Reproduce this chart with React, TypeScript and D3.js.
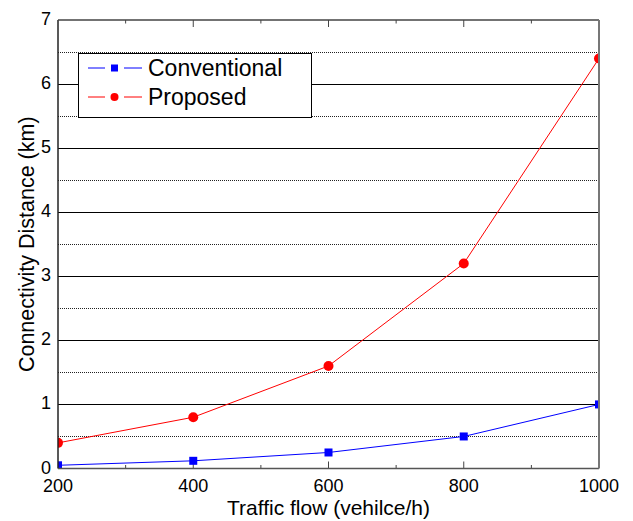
import React from "react";
import * as d3 from "d3";

const xValues = [200, 400, 600, 800, 1000];
const conventional = [0.05, 0.12, 0.25, 0.5, 1.0];
const proposed = [0.4, 0.8, 1.6, 3.2, 6.4];
const xTicks = [200, 400, 600, 800, 1000];
const xMinorTicks = [300, 500, 700, 900];
const yTicks = [0, 1, 2, 3, 4, 5, 6, 7];
const yHalfTicks = [0.5, 1.5, 2.5, 3.5, 4.5, 5.5, 6.5];
const seriesNames = ["Conventional", "Proposed"];

const W = 633;
const H = 521;
const L = 58, R = 599, T = 20, B = 468.5;
const FONT = "'Liberation Sans', Arial, sans-serif";

export default function App() {
  const x = d3.scaleLinear().domain([200, 1000]).range([L, R]);
  const y = d3.scaleLinear().domain([0, 7]).range([B, T]);
  const line = d3.line<number>().x((_, i) => x(xValues[i])).y((d) => y(d));

  return (
    <svg width={W} height={H} style={{ position: "absolute", left: 0, top: 0, background: "#fff" }} fontFamily={FONT}>
      <defs>
        <clipPath id="plotclip">
          <rect x={L} y={T} width={R - L} height={B - T} />
        </clipPath>
      </defs>
      <rect width={W} height={H} fill="#fff" />
      {/* grid */}
      {yHalfTicks.map((v) => (
        <line key={"h" + v} x1={L} x2={R} y1={Math.round(y(v)) + 0.5} y2={Math.round(y(v)) + 0.5} stroke="#222" strokeWidth={1} strokeDasharray="1,1" />
      ))}
      {yTicks.slice(1, 7).map((v) => (
        <line key={"g" + v} x1={L} x2={R} y1={Math.round(y(v)) + 0.5} y2={Math.round(y(v)) + 0.5} stroke="#000" strokeWidth={1} />
      ))}
      {/* x ticks bottom/top */}
      {xTicks.slice(1, 4).map((v) => (
        <g key={"xt" + v}>
          <line x1={x(v)} x2={x(v)} y1={B} y2={B - 7} stroke="#444" />
          <line x1={x(v)} x2={x(v)} y1={T} y2={T + 7} stroke="#444" />
        </g>
      ))}
      {xMinorTicks.map((v) => (
        <g key={"xm" + v}>
          <line x1={x(v)} x2={x(v)} y1={B} y2={B - 3.5} stroke="#444" />
          <line x1={x(v)} x2={x(v)} y1={T} y2={T + 3.5} stroke="#444" />
        </g>
      ))}
      {/* series */}
      <g clipPath="url(#plotclip)">
        <path d={line(conventional) || ""} fill="none" stroke="#0000ff" strokeWidth={1} />
        <path d={line(proposed) || ""} fill="none" stroke="#ff0000" strokeWidth={1} />
        {conventional.map((v, i) => (
          <rect key={"c" + i} x={x(xValues[i]) - 4} y={y(v) - 4} width={8} height={8} fill="#0000ff" />
        ))}
        {proposed.map((v, i) => (
          <circle key={"p" + i} cx={x(xValues[i])} cy={y(v)} r={5} fill="#ff0000" />
        ))}
      </g>
      {/* frame */}
      <line x1={L} x2={L} y1={T} y2={B} stroke="#222" strokeWidth={1.5} />
      <line x1={L} x2={R} y1={T} y2={T} stroke="#444" strokeWidth={1.5} />
      <line x1={L} x2={R} y1={B} y2={B} stroke="#555" strokeWidth={1.5} />
      <line x1={R} x2={R} y1={T} y2={B} stroke="#777" strokeWidth={2} />
      {/* tick labels */}
      {xTicks.map((v) => (
        <text key={"xl" + v} x={x(v)} y={492} textAnchor="middle" fontSize={18} fill="#000">{v}</text>
      ))}
      {yTicks.map((v) => (
        <text key={"yl" + v} x={51} y={y(v) + 5} textAnchor="end" fontSize={18} fill="#000">{v}</text>
      ))}
      {/* axis titles */}
      <text x={(L + R) / 2} y={515} textAnchor="middle" fontSize={21} fill="#000">Traffic flow (vehilce/h)</text>
      <text transform={`translate(34,${(T + B) / 2}) rotate(-90)`} textAnchor="middle" fontSize={21.5} fill="#000">Connectivity Distance (km)</text>
      {/* legend */}
      <g>
        <rect x={78.5} y={53.5} width={233} height={64} fill="#fff" stroke="#000" strokeWidth={1} />
        {seriesNames.map((name, i) => {
          const ly = 68 + i * 29;
          const color = i === 0 ? "#0000ff" : "#ff0000";
          return (
            <g key={name}>
              <line x1={88} x2={105} y1={ly} y2={ly} stroke={color} strokeWidth={1} />
              <line x1={124} x2={142} y1={ly} y2={ly} stroke={color} strokeWidth={1} />
              {i === 0 ? (
                <rect x={111} y={ly - 3.5} width={7} height={7} fill={color} />
              ) : (
                <circle cx={114.5} cy={ly} r={4} fill={color} />
              )}
              <text x={148} y={ly + 8} fontSize={23} fill="#000">{name}</text>
            </g>
          );
        })}
      </g>
    </svg>
  );
}
